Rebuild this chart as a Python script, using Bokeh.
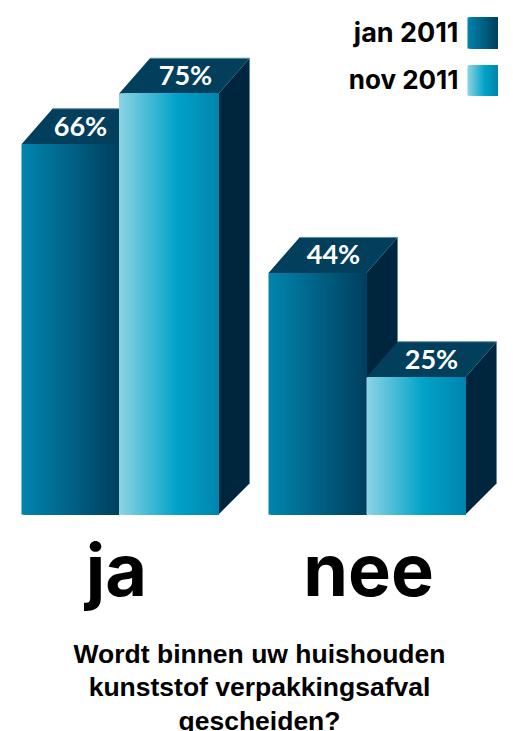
from bokeh.plotting import figure
from bokeh.models import Range1d
from bokeh.core.properties import value
from bokeh.embed import file_html
from bokeh.resources import INLINE
import numpy as np

# data
groups = ["ja", "nee"]
series = ["jan 2011", "nov 2011"]
jan_2011 = [66, 44]
nov_2011 = [75, 25]
title_lines = ["Wordt binnen uw huishouden", "kunststof verpakkingsafval", "gescheiden?"]

# layout (page pixels)
W, H = 513, 731
X0, Y0 = 0, 0
BASE = 514
SCALE = {"default": 5.61, "nee": 5.49}   # the picture draws the two groups on slightly different scales
DX, DY_TOP, DY_BOT = 31, 35.5, 31
EDGES = {"default": (21, 118.5, 218), "nee": (268, 366, 465)}   # left, split, right
LABEL_X = {"default": (80, 185), "nee": (333, 431)}
BASELINE_FIX = 0.39   # the svg backend draws "alphabetic" text this many em too low

TOP_COL, SIDE_COL, EDGE = "#013f5d", "#00263d", "#5f8ba0"
GRAD_JAN = [(0, "#0085ae"), (1, "#003f5e")]
GRAD_NOV = [(0, "#8cd4e4"), (0.58, "#00a2c8"), (1, "#0084ad")]


def hex2rgb(h):
    return np.array([int(h[i:i + 2], 16) for i in (1, 3, 5)], float)


def ramp(stops, n):
    t = (np.arange(n) + 0.5) / n
    pos = [s[0] for s in stops]
    rgb = np.array([hex2rgb(s[1]) for s in stops])
    return ["#%02x%02x%02x" % tuple(int(round(np.interp(u, pos, rgb[:, i]))) for i in range(3)) for u in t]


def yr(name):
    s = SCALE[name]
    return Range1d((BASE - (Y0 + H)) / s, (BASE - Y0) / s)


p = figure(width=W, height=H, output_backend="svg", toolbar_location=None,
           x_range=Range1d(X0, X0 + W), y_range=yr("default"),
           min_border=0, outline_line_color=None, background_fill_color="white")
p.extra_y_ranges = {"nee": yr("nee")}
p.axis.visible = False
p.grid.visible = False


def px(name, dy):
    return dy / SCALE[name]


def ypx(y):
    return (BASE - y) / SCALE["default"]


def label(x, baseline_y, txt, font, size, align="center"):
    p.text([x], [ypx(baseline_y - BASELINE_FIX * size)], text=[txt], text_color="black", text_font=value(font),
           text_font_style="bold", text_font_size=f"{size}px", text_align=align, text_baseline="alphabetic")


def bar(name, left, right, val, stops, lbl_x):
    # side
    p.patch([right, right + DX, right + DX, right],
            [val, val + px(name, DY_TOP), px(name, DY_BOT), 0],
            fill_color=SIDE_COL, fill_alpha=1, line_color=None, y_range_name=name)
    p.line([right + DX, right + DX], [val + px(name, DY_TOP), px(name, DY_BOT)],
           line_color=EDGE, line_width=1, y_range_name=name)
    # top
    p.patch([left, right, right + DX, left + DX],
            [val, val, val + px(name, DY_TOP), val + px(name, DY_TOP)],
            fill_color=TOP_COL, fill_alpha=1, line_color=None, y_range_name=name)
    p.line([left + DX, right + DX], [val + px(name, DY_TOP)] * 2,
           line_color=EDGE, line_width=1, y_range_name=name)
    # front: each slice runs on to the bar's right edge, so no seams show between them
    n = int(round(right - left))
    xs = left + np.arange(n)
    p.quad(left=xs, right=right, bottom=0, top=val, fill_color=ramp(stops, n), fill_alpha=1,
           line_color=None, y_range_name=name)
    p.text([lbl_x], [val + px(name, 19)], text=[f"{val}%"], text_color="white",
           text_font=value("Lato"), text_font_style="bold", text_font_size="27px",
           text_align="center", text_baseline="middle", y_range_name=name)


for i, name in enumerate(["default", "nee"]):
    a, b, c = EDGES[name]
    bar(name, a, b, jan_2011[i], GRAD_JAN, LABEL_X[name][0])
    bar(name, b, c, nov_2011[i], GRAD_NOV, LABEL_X[name][1])

# group labels
for txt, cx in zip(groups, [116, 368]):
    label(cx, 597, txt, "Inter", 72)

# legend
for txt, stops, y0, y1, ty in zip(series, [GRAD_JAN, GRAD_NOV], [17, 65], [48, 95], [43, 89]):
    xs = 467 + np.arange(30)
    p.quad(left=xs, right=497, bottom=ypx(y1), top=ypx(y0), fill_color=ramp(stops, 30), fill_alpha=1,
           line_color=None)
    label(458, ty, txt, "Inter", 27 if txt.startswith("jan") else 26, align="right")

# question
for line, by in zip(title_lines, [664, 697, 731]):
    label(259, by, line, "Liberation Sans", 26.5)

open("out.html", "w").write(file_html(p, INLINE))
